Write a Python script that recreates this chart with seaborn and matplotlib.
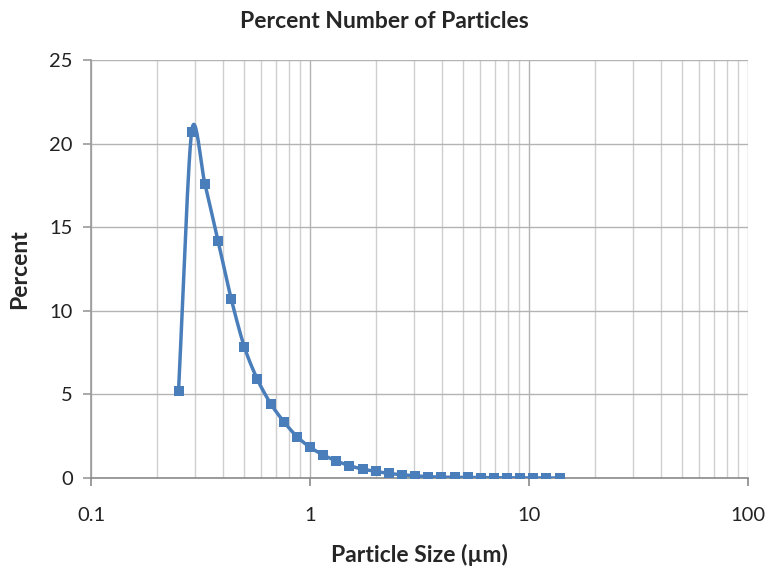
import numpy as np
import pandas as pd
import matplotlib
matplotlib.use("Agg")
import matplotlib.pyplot as plt
import seaborn as sns
from matplotlib.ticker import LogLocator, FixedLocator, NullFormatter

# Data
particle_size = [0.251, 0.288, 0.331, 0.380, 0.437, 0.501, 0.575, 0.661, 0.759, 0.871,
                 1.0, 1.148, 1.318, 1.514, 1.738, 1.995, 2.291, 2.630, 3.020, 3.467,
                 3.981, 4.571, 5.248, 6.026, 6.918, 7.943, 9.120, 10.47, 12.02, 13.80]
percent = [5.2, 20.7, 17.6, 14.2, 10.7, 7.85, 5.9, 4.45, 3.37, 2.48,
           1.84, 1.38, 1.02, 0.74, 0.53, 0.40, 0.27, 0.20, 0.13, 0.08,
           0.05, 0.04, 0.03, 0.02, 0.015, 0.01, 0.01, 0.005, 0.0, 0.0]
x_ticks = [0.1, 1, 10, 100]
x_tick_labels = ["0.1", "1", "10", "100"]
y_ticks = [0, 5, 10, 15, 20, 25]

df = pd.DataFrame({"size": particle_size, "percent": percent})

# Smoothed line (Bezier through points in log-x space, like a spreadsheet smoothed line)
lx = np.log10(df["size"].to_numpy())
yy = df["percent"].to_numpy()
px = np.concatenate([[2 * lx[0] - lx[1]], lx, [2 * lx[-1] - lx[-2]]])
py = np.concatenate([[2 * yy[0] - yy[1]], yy, [2 * yy[-1] - yy[-2]]])
sx, sy = [], []
t = np.linspace(0, 1, 25)
k = 1 / 7
for i in range(1, len(px) - 2):
    p0x, p1x, p2x, p3x = px[i - 1], px[i], px[i + 1], px[i + 2]
    p0y, p1y, p2y, p3y = py[i - 1], py[i], py[i + 1], py[i + 2]
    c1x = p1x + (p2x - p0x) * k
    c1y = p1y + (p2y - p0y) * k
    c2x = p2x - (p3x - p1x) * k
    c2y = p2y - (p3y - p1y) * k
    bx = (1 - t) ** 3 * p1x + 3 * (1 - t) ** 2 * t * c1x + 3 * (1 - t) * t ** 2 * c2x + t ** 3 * p2x
    by = (1 - t) ** 3 * p1y + 3 * (1 - t) ** 2 * t * c1y + 3 * (1 - t) * t ** 2 * c2y + t ** 3 * p2y
    sx.extend(bx)
    sy.extend(by)
smooth = pd.DataFrame({"size": 10 ** np.array(sx), "percent": np.array(sy)})

sns.set_theme(style="white")
plt.rcParams["font.family"] = ["Lato", "DejaVu Sans"]

fig = plt.figure(figsize=(7.68, 5.67), dpi=100)
ax = fig.add_axes([91 / 768, 1 - 478 / 567, (748 - 91) / 768, (478 - 60) / 567])

color = "#4a7ebb"
sns.lineplot(data=smooth, x="size", y="percent", ax=ax, color=color, linewidth=2.5,
             sort=False, estimator=None, zorder=3)
sns.scatterplot(data=df, x="size", y="percent", ax=ax, color=color, marker="s", s=50,
                edgecolor=color, linewidth=0, zorder=4)

ax.set_xscale("log")
ax.set_xlim(0.1, 100)
ax.set_ylim(0, 25)

ax.xaxis.set_major_locator(FixedLocator(x_ticks))
ax.set_xticks(x_ticks)
ax.set_xticklabels(x_tick_labels)
ax.xaxis.set_minor_locator(LogLocator(base=10, subs=np.arange(2, 10)))
ax.xaxis.set_minor_formatter(NullFormatter())
ax.set_yticks(y_ticks)

ax.grid(True, which="major", axis="both", color="#b3b3b3", linewidth=1.0)
ax.grid(True, which="minor", axis="x", color="#cfcfcf", linewidth=1.0)
ax.set_axisbelow(True)

for side in ["top", "right"]:
    ax.spines[side].set_visible(False)
ax.spines["left"].set_color("#9a9a9a")
ax.spines["bottom"].set_color("#8a8a8a")
ax.spines["left"].set_linewidth(1.2)
ax.spines["bottom"].set_linewidth(1.2)

ax.tick_params(axis="x", which="major", direction="out", length=6, width=1.2,
               color="#8a8a8a", labelsize=14.5, pad=15, labelcolor="#222222", bottom=True)
ax.tick_params(axis="x", which="minor", length=0)
ax.tick_params(axis="y", which="major", direction="out", length=6, width=1.2,
               color="#9a9a9a", labelsize=14.5, pad=7, labelcolor="#222222", left=True)

ax.set_xlabel("Particle Size (µm)", fontsize=16.5, fontweight="bold", labelpad=14)
ax.set_ylabel("Percent", fontsize=16.5, fontweight="bold", labelpad=14)
fig.text(0.5, 1 - 22 / 567, "Percent Number of Particles", ha="center", va="center",
         fontsize=16.5, fontweight="bold")

fig.savefig("out.png", dpi=100)
